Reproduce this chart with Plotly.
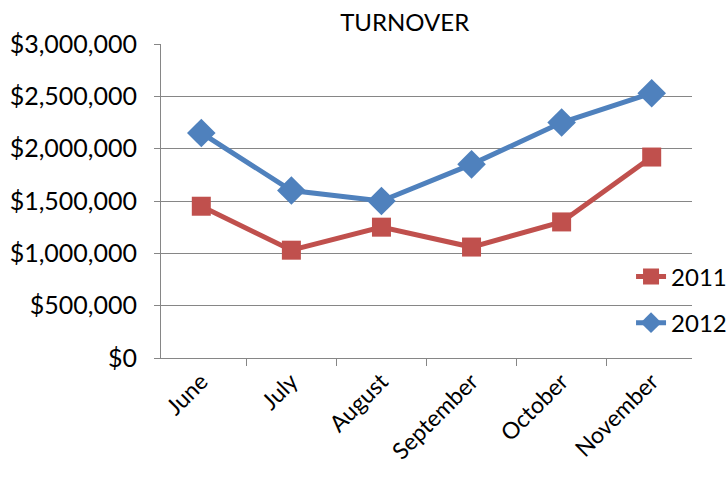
import plotly.graph_objects as go

months = ["June", "July", "August", "September", "October", "November"]
turnover_2011 = [1450000, 1030000, 1250000, 1060000, 1300000, 1920000]
turnover_2012 = [2150000, 1600000, 1500000, 1850000, 2250000, 2530000]
y_ticks = [0, 500000, 1000000, 1500000, 2000000, 2500000, 3000000]
y_labels = ["$0", "$500,000", "$1,000,000", "$1,500,000", "$2,000,000", "$2,500,000", "$3,000,000"]

font = "Lato, 'Open Sans', sans-serif"
axis_grey = "#868686"

fig = go.Figure()
fig.add_trace(go.Scatter(
    x=months, y=turnover_2011, name="2011", mode="lines+markers",
    legendgroup="a",
    line=dict(color="#C0504D", width=5),
    marker=dict(symbol="square", size=19, color="#C0504D"),
))
fig.add_trace(go.Scatter(
    x=months, y=turnover_2012, name="2012", mode="lines+markers",
    legendgroup="b",
    line=dict(color="#4F81BD", width=5),
    marker=dict(symbol="diamond", size=22, color="#4F81BD"),
))

fig.update_layout(
    width=727, height=477,
    paper_bgcolor="white", plot_bgcolor="white",
    margin=dict(l=161, r=35, t=44, b=119, autoexpand=False),
    font=dict(family=font, size=24, color="black"),
    title=dict(text="TURNOVER", xref="paper", x=0.459, xanchor="center",
               yref="container", y=0.953, yanchor="middle",
               font=dict(family=font, size=24, color="black")),
    showlegend=True,
    legend=dict(xref="container", x=0.868, y=0.33, xanchor="left", yanchor="top",
                bgcolor="rgba(0,0,0,0)", tracegroupgap=12,
                font=dict(family=font, size=24, color="black")),
    xaxis=dict(
        type="category", tickangle=-45, showgrid=False, automargin=False,
        showline=True, linecolor=axis_grey, linewidth=1,
        ticks="outside", tickson="boundaries", ticklen=7, tickcolor=axis_grey,
        tickfont=dict(family=font, size=23),
    ),
    yaxis=dict(
        range=[0, 3000000], tickvals=y_ticks, ticktext=y_labels, automargin=False,
        showgrid=True, gridcolor=axis_grey, gridwidth=1,
        showline=True, linecolor=axis_grey, linewidth=1,
        ticks="outside", ticklen=6, tickcolor=axis_grey, ticklabelstandoff=12,
        zeroline=False, tickfont=dict(family=font, size=25),
    ),
)

fig.write_html("out.html", config={"displayModeBar": False},
               post_script="document.body.style.margin='0';")
